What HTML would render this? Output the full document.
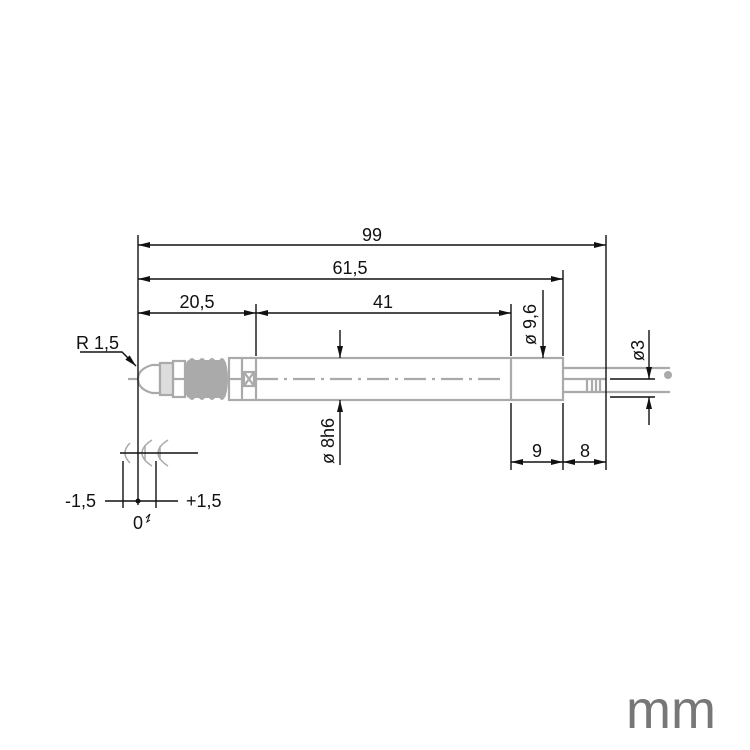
<!DOCTYPE html>
<html><head><style>body{margin:0;background:#fff}svg{display:block}text{font-family:"Liberation Sans",sans-serif;fill:#111}</style></head>
<body>
<svg width="750" height="750" viewBox="0 0 750 750" xmlns="http://www.w3.org/2000/svg">
<defs>
<marker id="a" viewBox="0 0 12 6" refX="12" refY="3" markerWidth="13" markerHeight="6" orient="auto-start-reverse" markerUnits="userSpaceOnUse"><path d="M0,0L12,3L0,6z" fill="#111"/></marker>
</defs>
<g stroke="#aaa" stroke-width="2.2" fill="none">
<path d="M160,365 L152,365 Q138,369 138,379 Q138,389 152,393 L160,393 Z"/>
<rect x="160" y="363" width="13" height="32" fill="#ddd"/>
<rect x="173" y="361" width="12" height="36"/>
<line x1="173" y1="379" x2="185" y2="379"/>
<rect x="229" y="358" width="334" height="42"/>
<line x1="242" y1="358" x2="242" y2="400"/><line x1="256" y1="358" x2="256" y2="400"/>
<line x1="229" y1="379" x2="242" y2="379"/>
<path d="M244,372 L254,386 M254,372 L244,386"/>
<rect x="244" y="372" width="10" height="14"/>
<line x1="511" y1="358" x2="511" y2="400"/>
<path d="M563,368 L670,368 M563,392 L670,392 M563,379 L606,379 M587,379 L587,392 M592,380 L592,392 M596,380 L596,392 M600,380 L600,392"/>
<line x1="256" y1="379" x2="500" y2="379" stroke-dasharray="22,6,3,6"/>
<line x1="128" y1="379" x2="138" y2="379"/>
</g>
<g fill="#aaa">
<rect x="186" y="360" width="40" height="38" rx="4"/>
<ellipse cx="192" cy="379" rx="7" ry="21"/><ellipse cx="202" cy="379" rx="7" ry="21"/><ellipse cx="212" cy="379" rx="7" ry="21"/><ellipse cx="222" cy="379" rx="6" ry="21"/>
<circle cx="668" cy="375" r="4"/>
</g>
<g stroke="#aaa" stroke-width="1.5" fill="none">
<path d="M130,443 Q120,453 130,463"/>
<path d="M152,440 Q132,453 152,466 M145,445 L145,461"/>
<path d="M168,440 Q148,453 168,466 M160,446 L160,460"/>
</g>
<g stroke="#111" stroke-width="1.4" fill="none">
<line x1="138" y1="235" x2="138" y2="505"/>
<line x1="606" y1="235" x2="606" y2="470"/>
<line x1="563" y1="270" x2="563" y2="356"/>
<line x1="256" y1="304" x2="256" y2="356"/>
<line x1="511" y1="304" x2="511" y2="356"/>
<line x1="511" y1="403" x2="511" y2="470"/>
<line x1="563" y1="403" x2="563" y2="470"/>
<line x1="138" y1="245" x2="606" y2="245" marker-start="url(#a)" marker-end="url(#a)"/>
<line x1="138" y1="279" x2="563" y2="279" marker-start="url(#a)" marker-end="url(#a)"/>
<line x1="138" y1="313" x2="256" y2="313" marker-start="url(#a)" marker-end="url(#a)"/>
<line x1="256" y1="313" x2="511" y2="313" marker-start="url(#a)" marker-end="url(#a)"/>
<line x1="511" y1="462" x2="563" y2="462" marker-start="url(#a)" marker-end="url(#a)"/>
<line x1="563" y1="462" x2="606" y2="462" marker-start="url(#a)" marker-end="url(#a)"/>
<line x1="340" y1="330" x2="340" y2="358" marker-end="url(#a)"/>
<line x1="340" y1="465" x2="340" y2="400" marker-end="url(#a)"/>
<line x1="543" y1="290" x2="543" y2="358" marker-end="url(#a)"/>
<line x1="649" y1="330" x2="649" y2="379" marker-end="url(#a)"/>
<line x1="649" y1="425" x2="649" y2="397" marker-end="url(#a)"/>
<line x1="610" y1="379" x2="655" y2="379"/>
<line x1="610" y1="397" x2="655" y2="397"/>
<path d="M80,352 L122,352 L136,366" marker-end="url(#a)"/>
<line x1="120" y1="453" x2="198" y2="453"/>
<line x1="123" y1="461" x2="123" y2="508"/>
<line x1="156" y1="461" x2="156" y2="508"/>
<line x1="105" y1="501" x2="178" y2="501"/>
</g>
<circle cx="138" cy="501" r="2.5" fill="#111"/>
<g font-size="18">
<text x="372" y="241" text-anchor="middle">99</text>
<text x="350" y="274" text-anchor="middle">61,5</text>
<text x="197" y="308" text-anchor="middle">20,5</text>
<text x="383" y="308" text-anchor="middle">41</text>
<text x="537" y="457" text-anchor="middle">9</text>
<text x="585" y="457" text-anchor="middle">8</text>
<text x="76" y="349">R 1,5</text>
<text x="65" y="507">-1,5</text>
<text x="186" y="507">+1,5</text>
<text x="133" y="529">0</text>
<text transform="translate(536,345) rotate(-90)">ø 9,6</text>
<text transform="translate(334,464) rotate(-90)">ø 8h6</text>
<text transform="translate(644,361) rotate(-90)">ø3</text>
<text x="626" y="728" font-size="54" style="fill:#777">mm</text>
</g>
<path d="M146,518 L150,514 L147,522 L150,520" stroke="#111" stroke-width="1" fill="none"/>
</svg>
</body></html>
